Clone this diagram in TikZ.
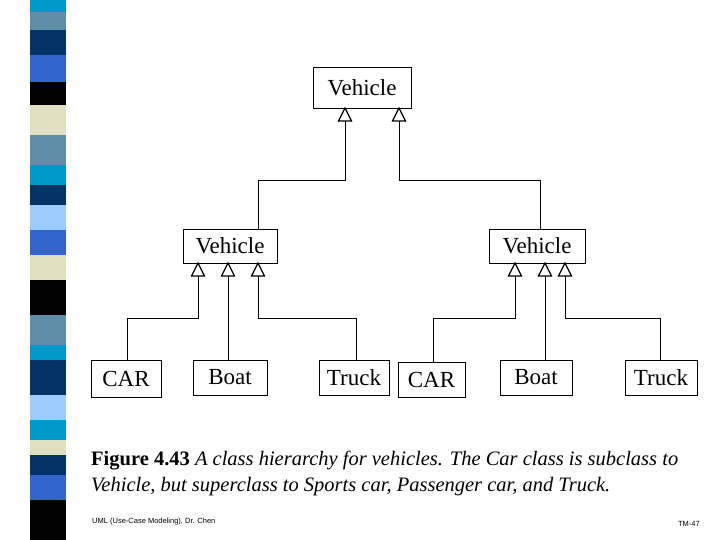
\documentclass[tikz,border=0pt]{standalone}
\usepackage{fontspec}
\setmainfont{Liberation Serif}
\newfontfamily\sansf{Liberation Sans}
\begin{document}
\begin{tikzpicture}[x=1pt,y=-1pt,
  box/.style={draw,line width=0.6pt,inner sep=0pt,font=\fontsize{23}{25}\selectfont},
  inh/.style={draw,line width=0.6pt},
  tri/.style={draw,line width=1.2pt,fill=white}]
\useasboundingbox (0,0) rectangle (720,540);
% stripe
\foreach \a/\b/\c in {0/12/0099CC,12/30/5F8FA8,30/55/003366,55/82/3366CC,82/105/000000,105/135/E0E0C0,135/165/5F8FA8,165/185/0099CC,185/205/003366,205/230/99CCFF,230/255/3366CC,255/280/E0E0C0,280/315/000000,315/345/5F8FA8,345/360/0099CC,360/395/003366,395/420/99CCFF,420/440/0099CC,440/455/E0E0C0,455/475/003366,475/500/3366CC,500/540/000000}{
  \definecolor{sc}{HTML}{\c}
  \fill[sc] (30,\a) rectangle (66,\b);}
% boxes
\node[box,minimum width=98,minimum height=41] (v) at (362,87.5) {Vehicle};
\node[box,minimum width=94,minimum height=34] (vl) at (230,246) {Vehicle};
\node[box,minimum width=96,minimum height=34] (vr) at (537,246) {Vehicle};
\node[box,minimum width=70,minimum height=37] (c1) at (126,378.5) {CAR};
\node[box,minimum width=74,minimum height=35] (b1) at (230,377.5) {Boat};
\node[box,minimum width=70,minimum height=35] (t1) at (354,377.5) {Truck};
\node[box,minimum width=67,minimum height=35] (c2) at (431.5,379.5) {CAR};
\node[box,minimum width=72,minimum height=35] (b2) at (536,377.5) {Boat};
\node[box,minimum width=72,minimum height=35] (t2) at (661,377.5) {Truck};
% connectors
\coordinate (a1) at (345,108); \coordinate (a2) at (399,108);
\draw[inh] (vl.north -| 258,0) -- (258,180) -- (345,180) -- (a1);
\draw[inh] (vr.north -| 540,0) -- (540,180) -- (399,180) -- (a2);
\coordinate (l1) at (198,263); \coordinate (l2) at (228,263); \coordinate (l3) at (258,263);
\coordinate (r1) at (515,263); \coordinate (r2) at (545,263); \coordinate (r3) at (565,263);
\draw[inh] (c1.north -| 127,0) -- (127,318) -- (198,318) -- (l1);
\draw[inh] (b1.north -| 228,0) -- (l2);
\draw[inh] (t1.north -| 356,0) -- (356,318) -- (258,318) -- (l3);
\draw[inh] (c2.north -| 433,0) -- (433,318) -- (515,318) -- (r1);
\draw[inh] (b2.north -| 545,0) -- (r2);
\draw[inh] (t2.north -| 660,0) -- (660,318) -- (565,318) -- (r3);
\foreach \p in {a1,a2,l1,l2,l3,r1,r2,r3}
  \draw[tri] (\p) -- ++(-6.5,13) -- ++(13,0) -- cycle;
% caption
\node[anchor=base west,inner sep=0pt,font=\fontsize{20.5}{22}\selectfont] (cap1) at (91,465) {\textbf{Figure 4.43} \textit{A class hierarchy for vehicles. The Car class is subclass to}};
\node[anchor=base west,inner sep=0pt,font=\fontsize{20.5}{22}\selectfont] (cap2) at (91,491) {\textit{Vehicle, but superclass to Sports car, Passenger car, and Truck.}};
\node[anchor=base west,inner sep=0pt,font=\sansf\fontsize{7.5}{8}\selectfont] (f1) at (92,523) {UML (Use-Case Modeling), Dr. Chen};
\node[anchor=base east,inner sep=0pt,font=\sansf\fontsize{7.5}{8}\selectfont] (f2) at (700,526) {TM-47};
\end{tikzpicture}
\end{document}
